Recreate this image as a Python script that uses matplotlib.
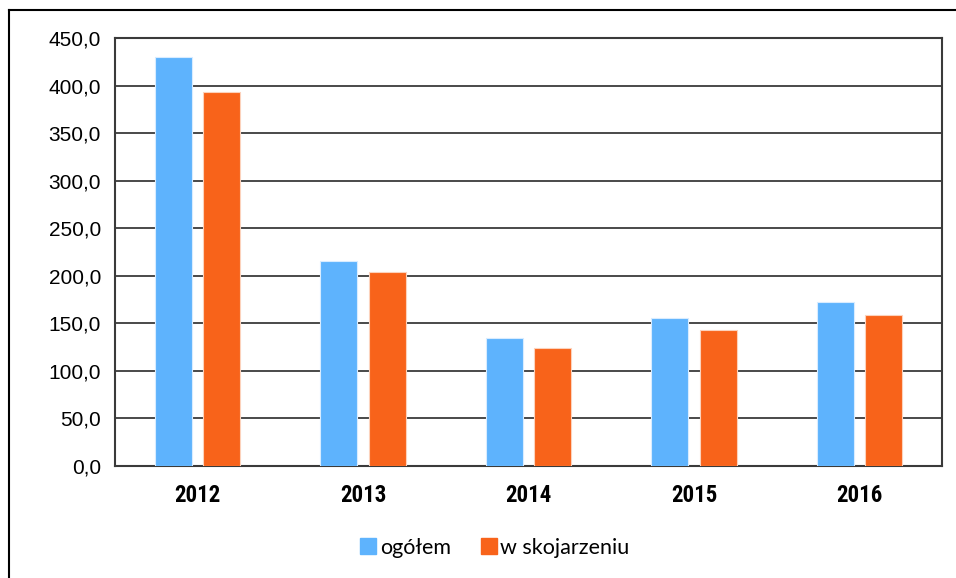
import matplotlib
matplotlib.use("Agg")
import matplotlib.pyplot as plt
import numpy as np
from matplotlib.lines import Line2D

years = ["2012", "2013", "2014", "2015", "2016"]
ogolem = [430.0, 215.5, 134.5, 155.5, 172.5]
w_skojarzeniu = [393.0, 204.0, 124.0, 143.0, 159.0]
series_names = ["ogółem", "w skojarzeniu"]
yticks = [0, 50, 100, 150, 200, 250, 300, 350, 400, 450]
ytick_labels = ["0,0", "50,0", "100,0", "150,0", "200,0", "250,0", "300,0", "350,0", "400,0", "450,0"]

c_blue = "#5EB3FD"
c_orange = "#F8631A"

fig = plt.figure(figsize=(9.56, 5.78), dpi=100)
ax = fig.add_axes([115/956, 1-466/578, (942-115)/956, (466-38)/578])

x = np.arange(len(years))
w = 0.224
off = 0.146
ax.bar(x - off, ogolem, w, color=c_blue, edgecolor="#D8ECFF", linewidth=0.8, zorder=3)
ax.bar(x + off, w_skojarzeniu, w, color=c_orange, edgecolor="#FCD2BC", linewidth=0.8, zorder=3)

ax.set_xlim(-0.5, len(years) - 0.5)
ax.set_ylim(0, 450)
ax.set_yticks(yticks)
ax.set_yticklabels(ytick_labels, fontsize=15, family=["Liberation Sans", "DejaVu Sans"])
ax.yaxis.grid(True, color="#3a3a3a", linewidth=1.3, zorder=0)
ax.set_axisbelow(True)
ax.set_xticks(x)
ax.set_xticklabels(years, fontsize=16.5, fontweight="bold",
                   family=["Liberation Sans Narrow", "Roboto Condensed", "Liberation Sans", "DejaVu Sans"])
ax.tick_params(axis="both", length=0)
ax.tick_params(axis="y", pad=10)
ax.tick_params(axis="x", pad=13)
for s in ax.spines.values():
    s.set_color("#3a3a3a")
    s.set_linewidth(1.5)

handles = [Line2D([], [], marker="s", linestyle="none", markersize=11, color=c) for c in (c_blue, c_orange)]
fig.legend(handles, series_names, loc="center", bbox_to_anchor=(494/956, 1-548/578), ncol=2,
           frameon=False, prop={"family": ["Lato", "DejaVu Sans"], "size": 15.5},
           handletextpad=0.1, columnspacing=1.3, handlelength=0.9)

# outer chart border (partially cropped)
fig.add_artist(Line2D([9/956, 1.0], [1-10/578, 1-10/578], color="black", linewidth=1.5, transform=fig.transFigure))
fig.add_artist(Line2D([9/956, 9/956], [1-10/578, 0.0], color="black", linewidth=1.5, transform=fig.transFigure))

fig.savefig("out.png", dpi=100)
